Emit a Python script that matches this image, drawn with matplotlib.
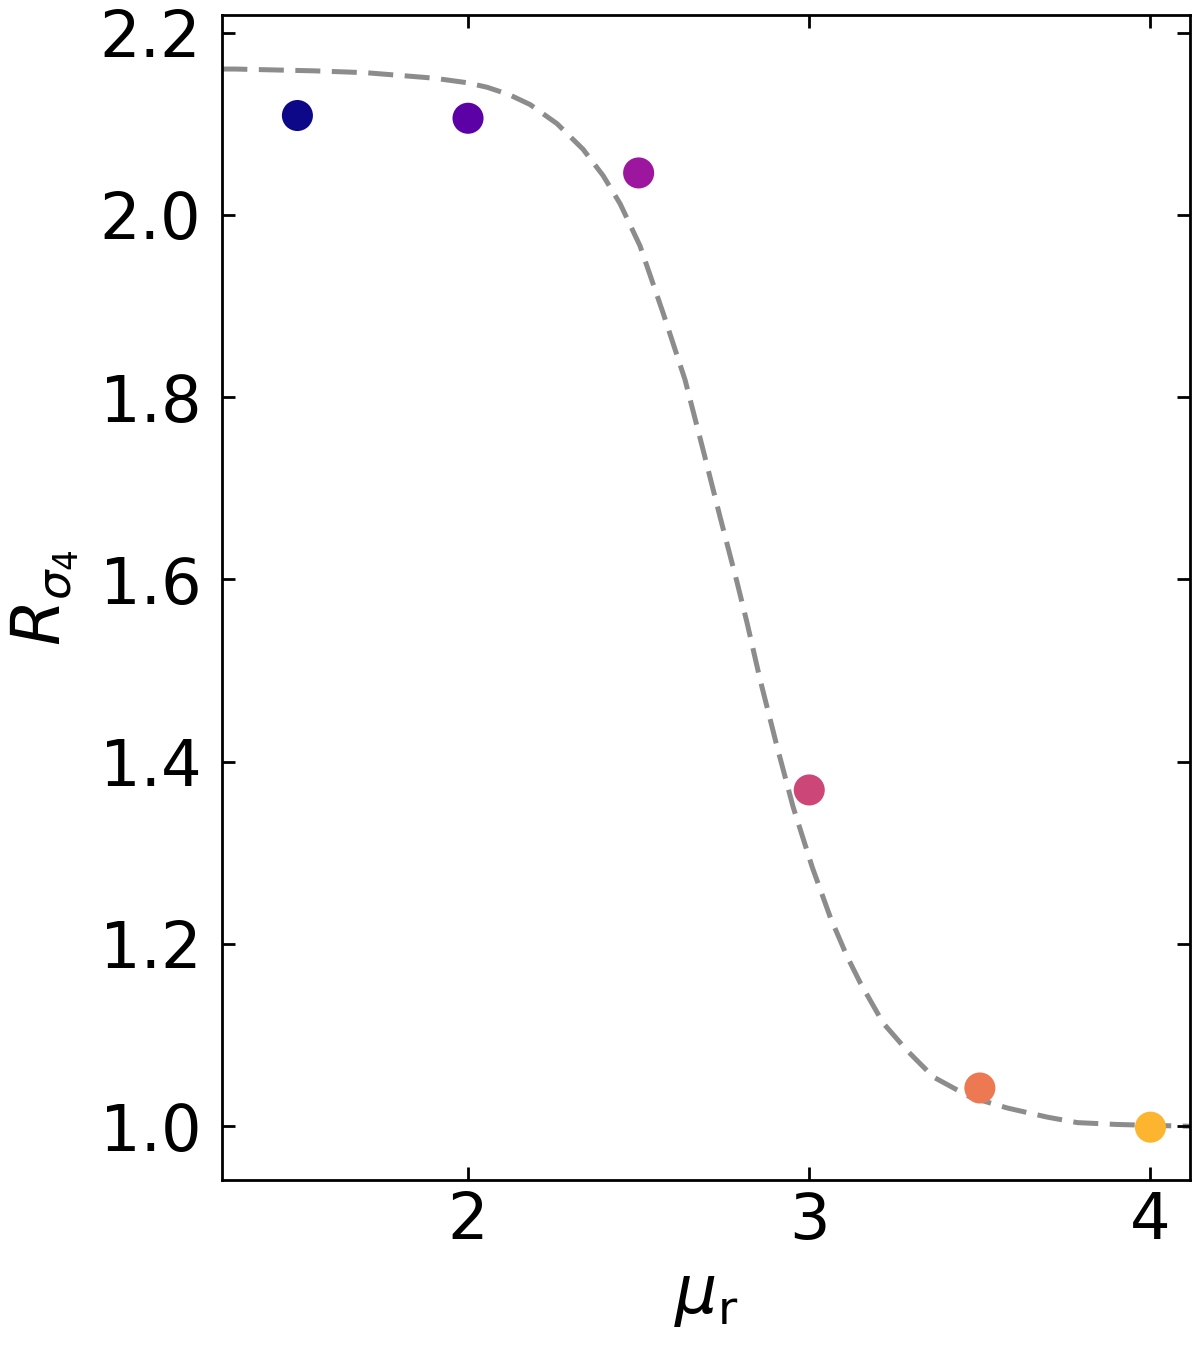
import numpy as np
import matplotlib.pyplot as plt

# measured points
mu_r = [1.5, 2.0, 2.5, 3.0, 3.5, 4.0]
R_sigma4 = [2.109, 2.106, 2.046, 1.369, 1.042, 0.999]

# dashed curve
curve_x = [1.28, 1.317, 1.55, 1.70, 1.80, 1.90, 1.997, 2.056, 2.120, 2.182, 2.261, 2.337, 2.396,
           2.446, 2.504, 2.572, 2.636, 2.689, 2.739, 2.789, 2.818, 2.856, 2.906,
           2.953, 3.009, 3.062, 3.110, 3.150, 3.217, 3.287, 3.364, 3.472, 3.581,
           3.698, 3.786, 3.90, 4.0, 4.12]
curve_y = [2.160, 2.160, 2.158, 2.156, 2.153, 2.150, 2.145, 2.140, 2.132, 2.121, 2.100, 2.072, 2.043,
           2.012, 1.966, 1.892, 1.819, 1.742, 1.668, 1.596, 1.552, 1.490, 1.416,
           1.350, 1.284, 1.229, 1.187, 1.157, 1.113, 1.083, 1.054, 1.032, 1.020,
           1.010, 1.004, 1.002, 1.001, 1.000]

colors = plt.cm.plasma(np.arange(6) / 6)

plt.rcParams['mathtext.fontset'] = 'dejavusans'

fig = plt.figure(figsize=(6, 6.73), dpi=200)
ax = fig.add_axes([0.185, 0.1233, 0.807, 0.8657])

ax.plot(curve_x, curve_y, color='#8c8c8c', lw=1.8, dashes=(5, 2.3), zorder=1)
ax.scatter(mu_r, R_sigma4, c=colors, s=125, zorder=2, edgecolors='none')

ax.set_xlim(1.279, 4.117)
ax.set_ylim(0.941, 2.2195)
ax.set_xticks([2, 3, 4])
ax.set_yticks([1.0, 1.2, 1.4, 1.6, 1.8, 2.0, 2.2])
ax.tick_params(direction='in', top=True, right=True, length=4.7, width=1.0, labelsize=23)
ax.tick_params(axis='y', pad=7.5)
for s in ax.spines.values():
    s.set_linewidth(1.0)

ax.set_xlabel(r'$\mu_\mathrm{r}$', fontsize=24)
ax.set_ylabel(r'$R_{\sigma_4}$', fontsize=24, labelpad=6.5)

fig.savefig('out.png', dpi=200)
